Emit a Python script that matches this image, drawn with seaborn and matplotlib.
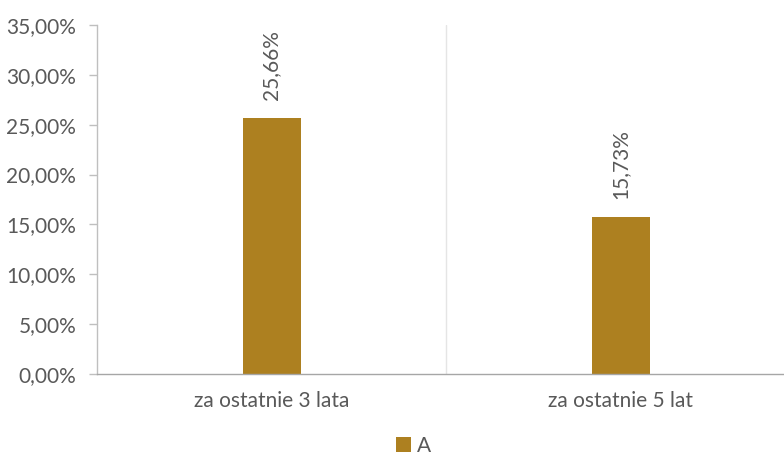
import matplotlib
matplotlib.use("Agg")
import matplotlib.pyplot as plt
import seaborn as sns
import pandas as pd
from matplotlib.patches import Patch

categories = ["za ostatnie 3 lata", "za ostatnie 5 lat"]
values = [25.66, 15.73]
series_name = "A"
yticks = [0, 5, 10, 15, 20, 25, 30, 35]

df = pd.DataFrame({"cat": categories, "val": values})

sns.set_style("white")
plt.rcParams["font.family"] = ["Lato", "DejaVu Sans"]

color = "#AD8020"
text_color = "#595959"
fs = 15

fig = plt.figure(figsize=(7.84, 4.57), dpi=100)
ax = fig.add_axes([97/784, (457-374)/457, 687/784, (374-25)/457])

sns.barplot(data=df, x="cat", y="val", color=color, width=0.166, ax=ax,
            saturation=1, edgecolor="none")

ax.set_xlim(-0.5, 1.468)
ax.set_ylim(0, 35)
ax.set_yticks(yticks)
ax.set_yticklabels([f"{t:.2f}".replace(".", ",") + "%" for t in yticks],
                   fontsize=fs, color=text_color)
ax.set_xticks(range(len(categories)))
ax.set_xticklabels(categories, fontsize=fs, color=text_color)
ax.set_xlabel("")
ax.set_ylabel("")
ax.tick_params(axis="y", length=6, width=1, color="#BFBFBF", pad=9, left=True)
ax.tick_params(axis="x", length=0, pad=12)

for s in ["top", "right"]:
    ax.spines[s].set_visible(False)
ax.spines["left"].set_color("#BFBFBF")
ax.spines["bottom"].set_color("#A6A6A6")
ax.spines["left"].set_linewidth(1)
ax.spines["bottom"].set_linewidth(1)

ax.axvline(0.5, color="#E5E5E5", lw=1, zorder=0)

for i, v in enumerate(values):
    ax.annotate(f"{v:.2f}".replace(".", ",") + "%", (i, v), xytext=(0, 13),
                textcoords="offset points", rotation=90, ha="center", va="bottom",
                fontsize=fs, color=text_color)

handles = [Patch(facecolor=color, edgecolor="none", label=series_name)]
fig.legend(handles=handles, loc="lower center", bbox_to_anchor=(0.528, -0.038),
           frameon=False, fontsize=fs, handlelength=0.7, handleheight=0.7,
           handletextpad=0.3, labelcolor=text_color)

fig.savefig("out.png", dpi=100)
